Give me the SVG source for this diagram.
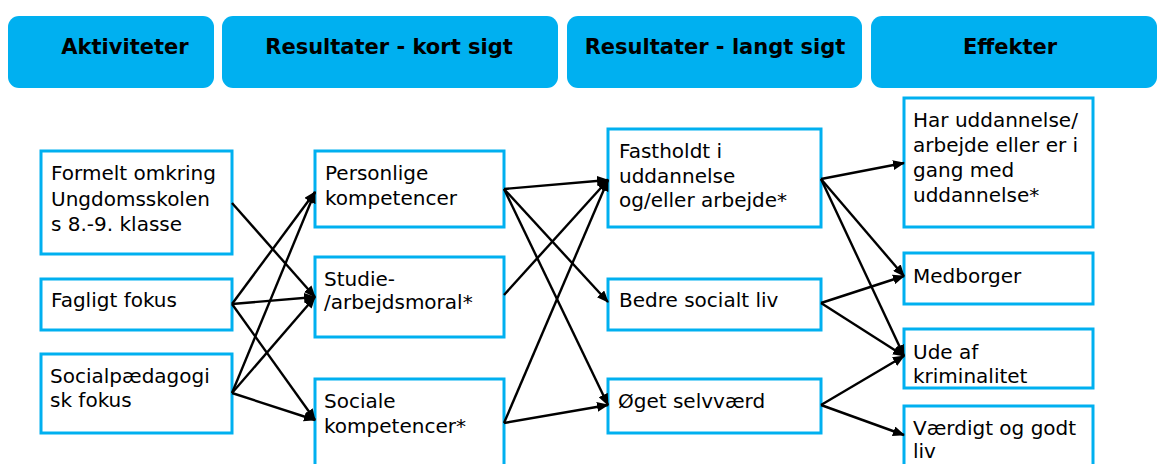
<svg xmlns="http://www.w3.org/2000/svg" width="1160" height="464" viewBox="0 0 1160 464">
<style>
.hdr{fill:#00B0F0}
.ht{font-family:"DejaVu Sans","Liberation Sans",sans-serif;font-weight:bold;font-size:21px;fill:#000;text-anchor:middle}
.box{fill:#fff;stroke:#00B0F0;stroke-width:3}
.t{font-family:"DejaVu Sans","Liberation Sans",sans-serif;font-size:20px;fill:#000}
.c line{stroke:#000;stroke-width:2.4}
</style>
<defs>
<marker id="ah" markerUnits="userSpaceOnUse" markerWidth="12" markerHeight="10" refX="11" refY="5" orient="auto">
<path d="M0,0 L12,5 L0,10 Z" fill="#000"/>
</marker>
</defs>
<rect width="1160" height="464" fill="#fff"/>
<g id="h1"><rect class="hdr" x="8" y="16" width="206" height="72" rx="11"/><text class="ht" x="125" y="54">Aktiviteter</text></g>
<g id="h2"><rect class="hdr" x="222" y="16" width="336" height="72" rx="11"/><text class="ht" x="389" y="54">Resultater - kort sigt</text></g>
<g id="h3"><rect class="hdr" x="567" y="16" width="295" height="72" rx="11"/><text class="ht" x="715" y="54">Resultater - langt sigt</text></g>
<g id="h4"><rect class="hdr" x="871" y="16" width="286" height="72" rx="11"/><text class="ht" x="1010" y="54">Effekter</text></g>

<g id="n1"><rect class="box" x="41" y="151" width="191" height="103"/><text class="t" x="51" y="180">Formelt omkring</text><text class="t" x="51" y="206">Ungdomsskolen</text><text class="t" x="51" y="231">s 8.-9. klasse</text></g>
<g id="n2"><rect class="box" x="41" y="279" width="191" height="51"/><text class="t" x="51" y="307">Fagligt fokus</text></g>
<g id="n3"><rect class="box" x="41" y="354" width="191" height="79"/><text class="t" x="50" y="383">Socialpædagogi</text><text class="t" x="50" y="407">sk fokus</text></g>

<g id="n4"><rect class="box" x="315" y="151" width="189" height="76"/><text class="t" x="325" y="180">Personlige</text><text class="t" x="325" y="205">kompetencer</text></g>
<g id="n5"><rect class="box" x="315" y="257" width="189" height="80"/><text class="t" x="324" y="286">Studie-</text><text class="t" x="324" y="309">/arbejdsmoral*</text></g>
<g id="n6"><rect class="box" x="315" y="379" width="189" height="90"/><text class="t" x="324" y="408">Sociale</text><text class="t" x="324" y="433">kompetencer*</text></g>

<g id="n7"><rect class="box" x="608" y="129" width="213" height="98"/><text class="t" x="619" y="158">Fastholdt i</text><text class="t" x="619" y="183">uddannelse</text><text class="t" x="619" y="207">og/eller arbejde*</text></g>
<g id="n8"><rect class="box" x="608" y="279" width="213" height="51"/><text class="t" x="619" y="307">Bedre socialt liv</text></g>
<g id="n9"><rect class="box" x="608" y="379" width="213" height="54"/><text class="t" x="618" y="408">Øget selvværd</text></g>

<g id="n10"><rect class="box" x="904" y="98" width="189" height="129"/><text class="t" x="913" y="127">Har uddannelse/</text><text class="t" x="913" y="152">arbejde eller er i</text><text class="t" x="913" y="177">gang med</text><text class="t" x="913" y="202">uddannelse*</text></g>
<g id="n11"><rect class="box" x="904" y="253" width="189" height="51"/><text class="t" x="913" y="283">Medborger</text></g>
<g id="n12"><rect class="box" x="904" y="329" width="189" height="59"/><text class="t" x="913" y="359">Ude af</text><text class="t" x="913" y="383">kriminalitet</text></g>
<g id="n13"><rect class="box" x="904" y="406" width="189" height="70"/><text class="t" x="913" y="435">Værdigt og godt</text><text class="t" x="913" y="458">liv</text></g>

<g id="connectors" class="c">
<line x1="232" y1="203" x2="315" y2="297" marker-end="url(#ah)"/>
<line x1="232" y1="304" x2="315" y2="192" marker-end="url(#ah)"/>
<line x1="232" y1="304" x2="315" y2="297" marker-end="url(#ah)"/>
<line x1="232" y1="304" x2="315" y2="420" marker-end="url(#ah)"/>
<line x1="232" y1="393" x2="315" y2="192" marker-end="url(#ah)"/>
<line x1="232" y1="393" x2="315" y2="297" marker-end="url(#ah)"/>
<line x1="232" y1="393" x2="315" y2="420" marker-end="url(#ah)"/>
<line x1="504" y1="189" x2="608" y2="180" marker-end="url(#ah)"/>
<line x1="504" y1="189" x2="608" y2="302" marker-end="url(#ah)"/>
<line x1="504" y1="189" x2="608" y2="405" marker-end="url(#ah)"/>
<line x1="504" y1="295" x2="608" y2="180" marker-end="url(#ah)"/>
<line x1="504" y1="423" x2="608" y2="180" marker-end="url(#ah)"/>
<line x1="504" y1="423" x2="608" y2="405" marker-end="url(#ah)"/>
<line x1="821" y1="179" x2="904" y2="163" marker-end="url(#ah)"/>
<line x1="821" y1="179" x2="904" y2="276" marker-end="url(#ah)"/>
<line x1="821" y1="179" x2="904" y2="356" marker-end="url(#ah)"/>
<line x1="821" y1="303" x2="904" y2="276" marker-end="url(#ah)"/>
<line x1="821" y1="303" x2="904" y2="356" marker-end="url(#ah)"/>
<line x1="821" y1="405" x2="904" y2="356" marker-end="url(#ah)"/>
<line x1="821" y1="405" x2="904" y2="435" marker-end="url(#ah)"/>
</g>
</svg>
